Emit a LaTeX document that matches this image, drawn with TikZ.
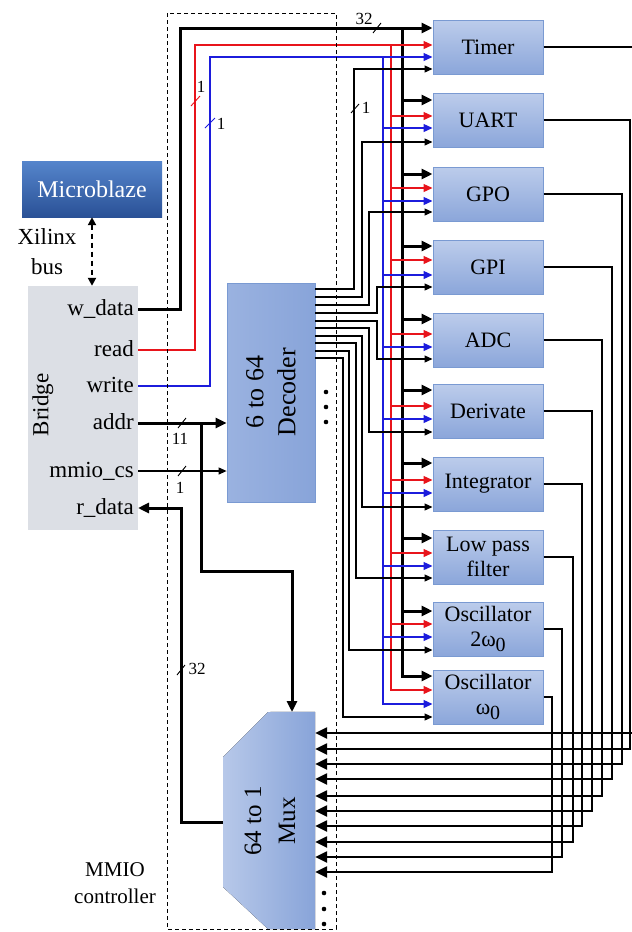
\documentclass[tikz,border=0pt]{standalone}
\usepackage{fontspec}
\setmainfont{Liberation Serif}
\usetikzlibrary{arrows.meta}
\definecolor{modtop}{HTML}{BCCCEB}
\definecolor{modbot}{HTML}{8BA6DA}
\definecolor{modedge}{HTML}{7A9AD2}
\definecolor{mbtop}{HTML}{5585CC}
\definecolor{mbbot}{HTML}{2A5196}
\definecolor{bridgefill}{HTML}{DCDFE5}
\definecolor{decleft}{HTML}{9AB2E0}
\definecolor{decright}{HTML}{88A4D9}
\definecolor{muxleft}{HTML}{B7C8E9}
\definecolor{muxright}{HTML}{88A4D9}
\definecolor{wred}{HTML}{E8141B}
\definecolor{wblue}{HTML}{1C1CDC}
\newcommand{\wsub}{\raisebox{-0.45ex}{\fontsize{20}{20}\selectfont 0}}
\begin{document}
\begin{tikzpicture}[x=1pt,y=-1pt,
  module/.style={draw=modedge,line width=1pt,top color=modtop,bottom color=modbot,
    minimum width=110pt,minimum height=54pt,inner sep=0pt,align=center,
    font=\fontsize{22}{25}\selectfont},
  mbbox/.style={top color=mbtop,bottom color=mbbot,minimum width=140pt,minimum height=56pt,
    inner sep=0pt,text=white,font=\fontsize{24}{26}\selectfont},
  decbox/.style={draw=modedge,line width=0.8pt,left color=decleft,right color=decright,
    minimum width=88pt,minimum height=219pt,inner sep=0pt},
  thickw/.style={line width=3pt},
  thinw/.style={line width=1.2pt},
  outw/.style={line width=2.4pt},
  redw/.style={draw=wred,line width=1.3pt},
  bluew/.style={draw=wblue,line width=1.3pt},
  bigtip/.style={-{Triangle[length=11pt,width=10pt]}},
  muxtip/.style={-{Triangle[length=12pt,width=11pt]}},
  smalltip/.style={-{Triangle[length=8pt,width=7pt]}},
  coltip/.style={-{Triangle[length=9pt,width=8pt]}},
  lbl/.style={inner sep=0pt,font=\fontsize{23}{25}\selectfont},
  num/.style={inner sep=0pt,font=\fontsize{17}{17}\selectfont},
  slash/.style={line width=0.9pt},
]
\useasboundingbox (0,0) rectangle (632,932);
\clip (0,0) rectangle (632,932);

% ---------- Microblaze and bridge
\node[mbbox] (mb) at (92,189) {Microblaze};
\node[fill=bridgefill,minimum width=110pt,minimum height=244pt,inner sep=0pt] (bridge) at (83,408) {};
\node[lbl,rotate=90] (bridgelbl) at (43,405) {Bridge};
\node[lbl,anchor=base east] (lwd) at (134,315) {w\_data};
\node[lbl,anchor=base east] (lrd) at (134,356) {read};
\node[lbl,anchor=base east] (lwr) at (134,392) {write};
\node[lbl,anchor=base east] (lad) at (134,429) {addr};
\node[lbl,anchor=base east] (lcs) at (134,477) {mmio\_cs};
\node[lbl,anchor=base east] (lrdat) at (134,514) {r\_data};
\coordinate (bwd) at (138,309);
\coordinate (brd) at (138,350);
\coordinate (bwr) at (138,386);
\coordinate (bad) at (138,423);
\coordinate (bcs) at (138,471);
\coordinate (brdat) at (138,508);
\node[lbl,align=center,font=\fontsize{23}{30}\selectfont] (xilinx) at (47,252) {Xilinx\\bus};
\draw[line width=2.2pt,dash pattern=on 5pt off 4pt,
  {Triangle[length=8pt,width=8pt]}-{Triangle[length=8pt,width=8pt]}]
  (mb.south) -- (bridge.north -| mb.south);

% ---------- decoder and mux
\node[decbox] (dec) at (271,392.5) {};
\node[rotate=90,align=center,font=\fontsize{26}{32}\selectfont] (dectxt) at (271,392) {6 to 64\\Decoder};
\node[minimum width=92pt,minimum height=217pt,inner sep=0pt] (mux) at (269,820.5) {};
\fill[left color=muxleft,right color=muxright] (268,712) -- (mux.north east) -- (mux.south east)
  -- (268,929) -- (223,887) -- (223,757) -- cycle;
\node[rotate=90,align=center,font=\fontsize{25}{34}\selectfont] (muxtxt) at (270,821) {64 to 1\\Mux};

% ---------- peripheral modules
\foreach \n/\tp/\txt in {timer/20/Timer,uart/93/UART,gpo/167/GPO,gpi/240/GPI,adc/313/ADC,
  der/384/Derivate,intg/457/Integrator,lpf/530/{Low pass\\filter},
  osca/602/{Oscillator\\2ω\wsub},oscb/670/{Oscillator\\ω\wsub}}
  \node[module] (\n) at (488,\tp+27) {\txt};

% ---------- buses from bridge
\draw[thickw] (bwd) -| (180,28) -- (402,28);
\draw[thickw,line cap=rect] (402,28) -- (402,676);
\draw[redw] (brd) -| (195,45) -- (391,45);
\draw[redw,line cap=rect] (391,45) -- (391,690);
\draw[bluew] (bwr) -| (210,57) -- (383,57);
\draw[bluew,line cap=rect] (383,57) -- (383,704);

\foreach \n/\ya/\yb/\yc/\yd/\dy/\dx/\ox/\my in {
 timer/28/45/57/69/289/354/641/733,
 uart/100/116/128/142/297/362/630/749,
 gpo/174/188/201/212/305/369/622/764,
 gpi/246/260/275/287/313/377/612/779,
 adc/319/334/347/359/321/377/602/796,
 der/390/406/419/432/328/369/592/811,
 intg/463/480/493/507/336/362/582/826,
 lpf/538/553/566/578/343/356/573/842,
 osca/611/624/637/650/351/349/562/857,
 oscb/676/690/704/717/358/343/552/872}{
  \draw[thickw,bigtip] (402,\ya) -- (\n.west |- 0,\ya);
  \draw[redw,coltip] (391,\yb) -- (\n.west |- 0,\yb);
  \draw[bluew,coltip] (383,\yc) -- (\n.west |- 0,\yc);
  \draw[thinw,smalltip] (dec.east |- 0,\dy) -| (\dx,\yd) -- (\n.west |- 0,\yd);
  \draw[outw,muxtip] (\n.east) -| (\ox,\my) -- (mux.east |- 0,\my);
}

% ---------- address, chip select, read data
\draw[thickw,bigtip] (bad) -- (dec.west |- bad);
\draw[thickw,bigtip] (201,423) -- (201,571) -- (292,571) -- (292,712);
\draw[thinw,smalltip] (bcs) -- (dec.west |- bcs);
\draw[thickw,bigtip] (mux.west |- 0,822) -| (181,508) -- (brdat);

% ---------- width marks
\draw[slash] (373,33) -- (381,23);
\node[num] (n32a) at (364,19) {32};
\draw[slash,wred] (191,106) -- (200,96);
\node[num] (n1a) at (201,87) {1};
\draw[slash,wblue] (205,128) -- (215,118);
\node[num] (n1b) at (221,124) {1};
\draw[slash] (351,113) -- (359,104);
\node[num] (n1c) at (366,108) {1};
\draw[slash] (178,428) -- (186,418);
\node[num] (n11) at (180,439) {11};
\draw[slash] (178,476) -- (186,466);
\node[num] (n1d) at (180,488) {1};
\draw[slash] (177,675) -- (185,665);
\node[num] (n32b) at (197,669) {32};

% ---------- dots
\foreach \yy in {392,407,422} \fill (326,\yy) circle (2.3pt);
\foreach \yy in {893,909,924} \fill (324,\yy) circle (2.3pt);

% ---------- MMIO controller
\draw[line width=1pt,dash pattern=on 4pt off 3pt] (167,13) rectangle (336,929);
\node[align=center,font=\fontsize{21}{27}\selectfont] (mmio) at (115,883) {MMIO\\controller};
\end{tikzpicture}
\end{document}
